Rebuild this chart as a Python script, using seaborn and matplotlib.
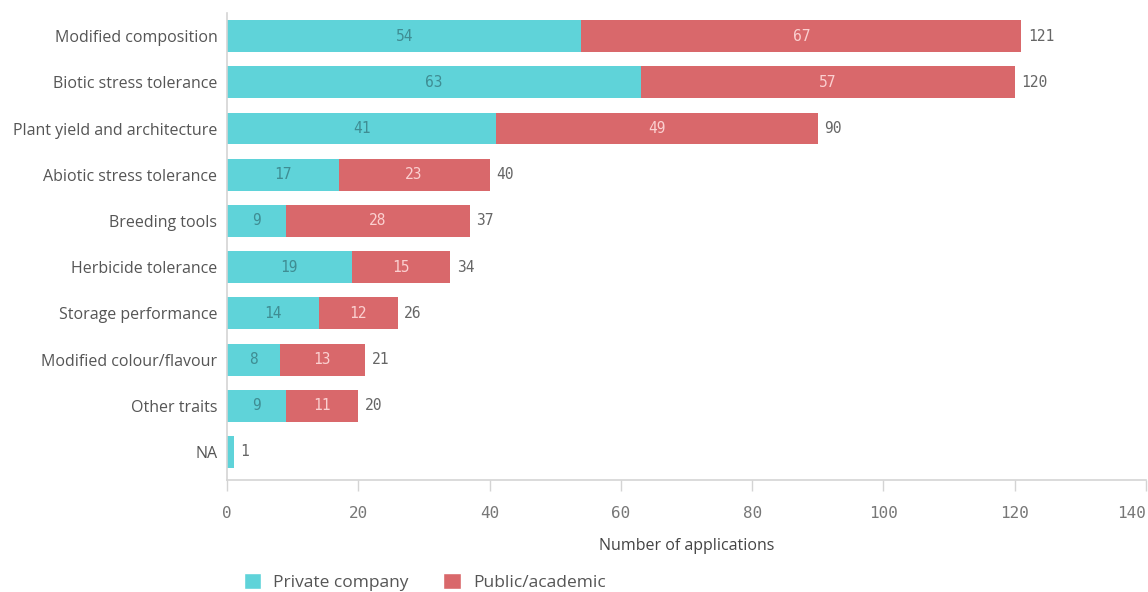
import matplotlib
matplotlib.use("Agg")
import matplotlib.pyplot as plt
from matplotlib.patches import Patch
import seaborn as sns
import pandas as pd

# Trait categories and application counts by applicant type
traits = [
    "Modified composition",
    "Biotic stress tolerance",
    "Plant yield and architecture",
    "Abiotic stress tolerance",
    "Breeding tools",
    "Herbicide tolerance",
    "Storage performance",
    "Modified colour/flavour",
    "Other traits",
    "NA",
]
private_company = [54, 63, 41, 17, 9, 19, 14, 8, 9, 1]
public_academic = [67, 57, 49, 23, 28, 15, 12, 13, 11, 0]
x_ticks = [0, 20, 40, 60, 80, 100, 120, 140]

df = pd.DataFrame({
    "trait": traits,
    "private": private_company,
    "public": public_academic,
})
df["total"] = df["private"] + df["public"]

TEAL = "#5fd3d9"
RED = "#d9686b"
GRID = "#d4d4d4"
TEXT = "#555555"
MONO = "DejaVu Sans Mono"
SANS = "Open Sans"

sns.set_theme(style="white")
plt.rcParams["font.family"] = [SANS, "DejaVu Sans"]

fig = plt.figure(figsize=(11.48, 5.92), dpi=100)
ax = fig.add_axes([227 / 1148, 1 - 480 / 592, (1146 - 227) / 1148, (480 - 13) / 592])

# Full stacked length in red, private share laid over it in teal
sns.barplot(data=df, y="trait", x="total", color=RED, orient="h",
            width=0.69, saturation=1, ax=ax, linewidth=0)
sns.barplot(data=df, y="trait", x="private", color=TEAL, orient="h",
            width=0.69, saturation=1, ax=ax, linewidth=0)

ax.set_xlim(0, 140)
ax.set_ylim(len(traits) - 1 + 0.606, -0.5)

for i, (p, q, t) in enumerate(zip(df["private"], df["public"], df["total"])):
    if p >= 3:
        ax.text(p / 2, i, str(p), ha="center", va="center",
                fontsize=10.5, family=MONO, color="#3f8d93")
    if q > 0:
        ax.text(p + q / 2, i, str(q), ha="center", va="center",
                fontsize=10.5, family=MONO, color="#fbd0d0")
    ax.text(t + 1, i, str(t), ha="left", va="center",
            fontsize=10.5, family=MONO, color="#666666")

ax.set_xticks(x_ticks)
labels = ax.set_xticklabels([str(v) for v in x_ticks], family=MONO,
                            fontsize=11.5, color="#777777")
labels[-1].set_horizontalalignment("right")
ax.tick_params(axis="x", which="both", bottom=True, length=8, width=1,
               color=GRID, pad=11)
ax.tick_params(axis="y", length=0, pad=7, labelsize=11.5, labelcolor=TEXT)

ax.set_ylabel("")
ax.set_xlabel("Number of applications", fontsize=11.5, color="#444444", labelpad=12)

for side in ["top", "right"]:
    ax.spines[side].set_visible(False)
for side in ["left", "bottom"]:
    ax.spines[side].set_visible(True)
    ax.spines[side].set_color(GRID)
    ax.spines[side].set_linewidth(1.2)

handles = [Patch(facecolor=TEAL, label="Private company"),
           Patch(facecolor=RED, label="Public/academic")]
fig.legend(handles=handles, loc="center left", bbox_to_anchor=(228 / 1148, 1 - 582 / 592),
           ncol=2, frameon=False, fontsize=12.5, handlelength=1.0, handleheight=1.0,
           handletextpad=0.7, columnspacing=2.0, labelcolor="#555555")

fig.savefig("out.png", dpi=100)
